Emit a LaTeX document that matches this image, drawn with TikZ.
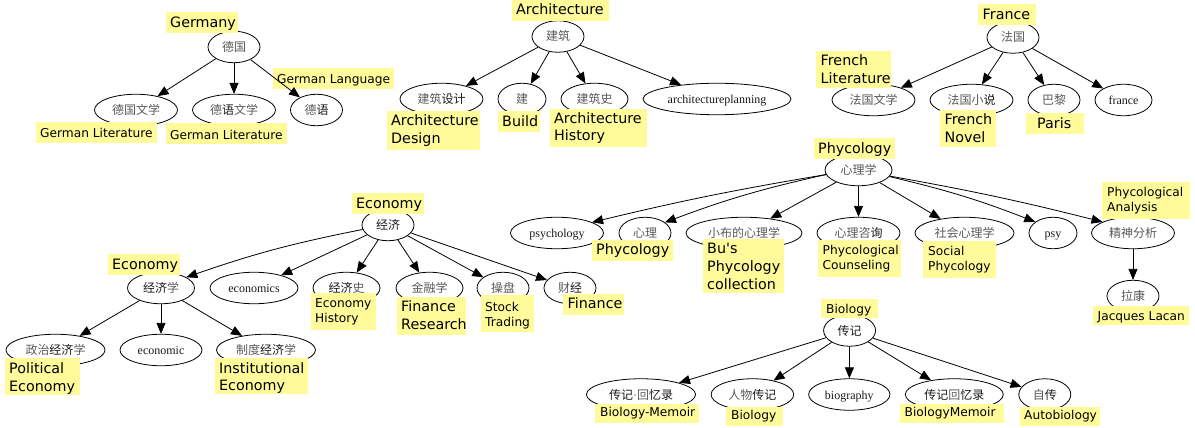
\documentclass[tikz,border=0pt]{standalone}
\usepackage{fontspec}
\setmainfont{Liberation Serif}
\newfontfamily\cjkf{Noto Sans CJK SC}
\newfontfamily\labf{DejaVu Sans}
\usetikzlibrary{shapes.geometric,arrows.meta}
\definecolor{labfill}{HTML}{FFFB9B}
\definecolor{softink}{HTML}{5A5A5A}
\newcommand{\hz}[1]{{\cjkf\color{softink}#1}}
\newcommand{\hk}[1]{{\cjkf\color{black!90}#1}}
% \gv name, cx, cy, rx, text
\newcommand{\gv}[5]{\node[gnode,minimum width=#4*2pt] (#1) at (#2,#3) {#5};}
% \labbox name, x1, y1, x2, y2, pad, style, text
\newcommand{\labbox}[8]{\fill[labfill] (#2,#3) rectangle (#4,#5);
  \node[#7,anchor=west] (#1) at ({#2+#6},{(#3+#5)/2}) {#8};}
\tikzset{
  gnode/.style={draw=black,ellipse,line width=0.8pt,inner sep=0pt,minimum height=31.5pt,text height=9pt,text depth=0pt,font=\fontsize{12}{12}\selectfont,text=softink},
  big/.style={inner sep=0pt,align=left,text=black,font=\labf\fontsize{14.3}{17.7}\selectfont},
  small/.style={inner sep=0pt,align=left,text=black,font=\labf\fontsize{12.2}{15}\selectfont},
  edge/.style={draw=black,line width=0.8pt,-{Triangle[length=11pt,width=9pt]}}
}
\begin{document}
\begin{tikzpicture}[x=1pt,y=-1pt]
\useasboundingbox (0,0) rectangle (1195,428);
% graph nodes
\gv{de}{234}{47}{26}{\hz{德国}}
\gv{dewx}{136}{110}{41.5}{\hz{德国文学}}
\gv{dyu}{234}{110}{41.5}{\hz{德}\hk{语}\hz{文学}}
\gv{deyu}{316.5}{110}{26}{\hz{德}\hk{语}}
\gv{jz}{558}{36.5}{26}{\hz{建筑}}
\gv{jzsj}{441.5}{99}{41.5}{\hz{建筑}\hk{设计}}
\gv{jian}{522}{99}{24}{\hz{建}}
\gv{jzs}{594.5}{99}{33.5}{\hz{建筑史}}
\gv{jzgh}{717}{99}{74}{\textcolor{black!90}{architectureplanning}}
\gv{fg}{1013}{37.5}{26}{\hz{法国}}
\gv{fgwx}{873.5}{100}{41.5}{\hz{法国文学}}
\gv{fgxs}{971.5}{100}{41.5}{\hz{法国小}\hk{说}}
\gv{bl}{1054}{100}{26}{\hz{巴黎}}
\gv{fra}{1123.5}{100}{28.5}{\textcolor{black!90}{france}}
\gv{jj}{388}{225}{26}{\hk{经济}}
\gv{jjx}{161}{288}{33.5}{\hk{经济}\hz{学}}
\gv{ecs}{254}{288}{44}{\textcolor{black!90}{economics}}
\gv{jjs}{346.5}{288}{33.5}{\hk{经济}\hz{史}}
\gv{jrx}{429.5}{288}{33.5}{\hz{金融学}}
\gv{cp}{503}{288}{26}{\hz{操盘}}
\gv{cj}{570}{288}{26}{\hz{财}\hk{经}}
\gv{zz}{55.5}{350}{49.5}{\hz{政治}\hk{经济}\hz{学}}
\gv{ecn}{161}{350}{41}{\textcolor{black!90}{economic}}
\gv{zd}{266}{350}{49.5}{\hz{制度}\hk{经济}\hz{学}}
\gv{xlx}{858.5}{170}{33.5}{\hz{心理学}}
\gv{psyc}{557}{233}{46.5}{\textcolor{black!90}{psychology}}
\gv{xl}{645}{233}{26}{\hz{心理}}
\gv{xb}{744}{233}{58}{\hz{小布的心理学}}
\gv{zx}{858.5}{233}{41.5}{\hz{心理咨}\hk{询}}
\gv{sh}{964.5}{233}{49.5}{\hz{社会心理学}}
\gv{psy}{1053}{233}{24}{\textcolor{black!90}{psy}}
\gv{js}{1133}{233}{41.5}{\hz{精神分析}}
\gv{lk}{1133}{296}{26}{\hz{拉康}}
\gv{zj}{849.6}{330.5}{26}{\hk{传记}}
\gv{zjh}{641}{394.5}{54.6}{\hk{传记}\textcolor{softink}{·}\hz{回}\hk{忆录}}
\gv{rw}{752.4}{394.5}{41.3}{\hz{人物}\hk{传记}}
\gv{bio}{849.3}{394.5}{40.7}{\textcolor{black!90}{biography}}
\gv{zjh2}{954.3}{394.5}{49}{\hk{传记}\hz{回}\hk{忆录}}
\gv{zz2}{1044.8}{394.5}{26}{\hz{自}\hk{传}}
% labels
\labbox{l1}{166}{12}{238}{33}{4}{big,yshift=-1pt}{Germany}
\labbox{l2}{273}{68}{394}{89}{4}{small,yshift=-1.5pt}{German Language}
\labbox{l3}{36}{122}{157}{143}{4}{small}{German Literature}
\labbox{l4}{166}{123}{287}{144}{4}{small,yshift=-1pt}{German Literature}
\labbox{l5}{512}{0}{609}{21}{4}{big,yshift=1pt}{Architecture}
\labbox{l6}{387}{111}{480}{150}{4}{big}{Architecture\\Design}
\labbox{l7}{498}{111}{540}{132}{4}{big}{Build}
\labbox{l8}{550}{109}{647}{147}{4}{big}{Architecture\\History}
\labbox{l9}{978}{4}{1036}{25}{4.5}{big}{France}
\labbox{l10}{816}{51}{891}{88}{4.5}{big}{French\\Literature}
\labbox{l11}{940}{110}{996}{147}{4.5}{big}{French\\Novel}
\labbox{l12}{1026}{113}{1084}{134}{11}{big}{Paris}
\labbox{l13}{352}{193}{424}{214}{4}{big,yshift=-1pt}{Economy}
\labbox{l14}{108}{254}{180}{275}{4}{big,yshift=-1pt}{Economy}
\labbox{l15}{5}{358}{80}{395}{4}{big,yshift=-2pt}{Political\\Economy}
\labbox{l16}{215}{358}{308}{394}{4}{big,yshift=-2pt}{Institutional\\Economy}
\labbox{l17}{311}{293}{376}{330}{4}{small}{Economy\\History}
\labbox{l18}{397}{297}{466}{335}{4}{big,yshift=1pt}{Finance\\Research}
\labbox{l19}{481}{295}{534}{332}{4}{small,yshift=-2pt}{Stock\\Trading}
\labbox{l20}{563}{294}{624}{315}{4.5}{big,yshift=1pt}{Finance}
\labbox{l21}{814}{138}{895}{159}{4}{big,yshift=-1pt}{Phycology}
\labbox{l22}{592}{240}{673}{261}{4}{big}{Phycology}
\labbox{l23}{703}{239}{784}{293}{4}{big,yshift=-0.5pt}{Bu's\\Phycology\\collection}
\labbox{l24}{818}{240}{901}{277}{4.5}{small}{Phycological\\Counseling}
\labbox{l25}{923}{241}{996}{278}{5}{small}{Social\\Phycology}
\labbox{l26}{1102}{182}{1190}{219}{5}{small}{Phycological\\Analysis}
\labbox{l27}{1093}{306}{1189}{325}{4.5}{small,yshift=-1.5pt}{Jacques Lacan}
\labbox{l28}{821}{299}{878}{318.3}{5}{small,yshift=-1pt}{Biology}
\labbox{l29}{595}{403.5}{699}{422.8}{5}{small}{Biology-Memoir}
\labbox{l30}{726}{406.6}{783}{425.8}{5}{small}{Biology}
\labbox{l31}{900}{403.5}{1003.6}{422.8}{4.5}{small}{BiologyMemoir}
\labbox{l32}{1019.5}{406.6}{1100}{425.8}{4.5}{small}{Autobiology}
% connectors
\foreach \a/\b in {de/dewx,de/dyu,de/deyu,jz/jzsj,jz/jian,jz/jzs,jz/jzgh,fg/fgwx,fg/fgxs,fg/bl,fg/fra,
  jj/ecs,jj/jjs,jj/jrx,jj/cp,jj/cj,jjx/zz,jjx/ecn,jjx/zd,
  xlx/xb,xlx/zx,xlx/sh,js/lk,
  zj/zjh,zj/rw,zj/bio,zj/zjh2,zj/zz2}
  {\draw[edge] (\a) -- (\b);}
\draw[edge] (jj.190) to[bend right=4] (jjx.23);
\draw[edge] (xlx.188) to[bend right=2] (psyc.17);
\draw[edge] (xlx.188) to[bend right=4] (xl.28);
\draw[edge] (xlx.-12) to[bend left=4] (psy.148);
\draw[edge] (xlx.-11) to[bend left=2] (js.160);
\end{tikzpicture}
\end{document}
